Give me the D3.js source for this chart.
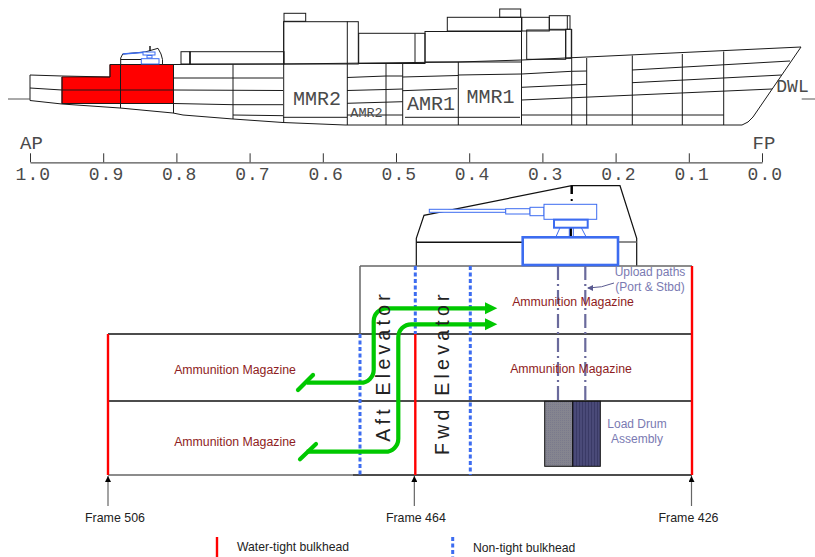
<!DOCTYPE html>
<html>
<head>
<meta charset="utf-8">
<script src="https://cdn.jsdelivr.net/npm/d3@7"></script>
<style>
  html, body { margin: 0; padding: 0; background: #fff; }
  svg { display: block; }
  .mono { font-family: "Liberation Mono", monospace; fill: #4a4a4a; }
  .sans { font-family: "Liberation Sans", sans-serif; }
</style>
</head>
<body>
<div id="chart"></div>
<script>
// ship profile: [distance from AP, height above keel]
var stationTicks = [1.0, 0.9, 0.8, 0.7, 0.6, 0.5, 0.4, 0.3, 0.2, 0.1, 0.0];
var hullOutline = [[0,50],[32,49],[80,48],[80,60.5],[144,60.5],[253,61],[428,63],[492,65],[542,67.3],[771,78],
  [723,8],[718,3],[712,0],[315,0],[253,2.5],[203,6],[153,10],[143,12],[90,17],[32,21],[0,24.5],[0,50]];
var redZone = [[32,48],[80,48],[80,60.5],[143.5,60.5],[143.5,21.5],[32,21.5],[32,48]];
var shipDecks = [
  [[143.5,47],[253,47]], [[317,47.5],[356,49],[372.7,49]], [[372.7,48],[428,49.5]], [[428,50],[491.5,51]],
  [[491.5,51],[541.7,53.7],[556.7,54]], [[602,55],[760,64]],
  [[0,37],[32,35],[143.5,35],[253,34.5]], [[317,34.5],[356,35.5],[372.7,36]], [[372.7,34.3],[427,36.3]],
  [[491.5,37.7],[556.7,40.7]], [[602,42.3],[751.7,50]],
  [[32,21.5],[143.5,21.5],[203,20.3],[253,20.3]], [[317,21.7],[372.7,23.3]], [[491.5,25],[742,36]],
  [[203,10],[253,9.3]], [[253,7.7],[317,7.7]], [[317,10],[372.7,10]], [[375,7.7],[490,7.7]], [[491.5,10],[693.7,10]]
];
var shipFrames = [[32,48,21],[90.5,60.5,17],[143.5,60.5,12],[203,60.7,6],[253.7,103.7,2.5],[317.3,103.7,0],[356,62,0],
  [372.7,62,0],[428.3,63,0],[491.5,108,0],[541.7,96,0],[556.7,67,0],[602.3,69.5,0],[652.3,71,0],[693.7,73.5,0],
  [160,61,73.3],[385,62,91.7],[537.3,95.7,109.3]];
var superstructure = [[151,160,61,73.3],[160,254,61,73.3],[254,275.7,103.7,111.7],[253.7,328.3,61,103.3],
  [328.7,395,61.5,91.7],[395,491.5,63,93.5],[417.3,491.7,94,107.7],[469.7,490.7,107.7,116],[491.7,519.3,94,107.7],
  [519.3,540,95.7,109.3],[496.7,535.7,65.7,95],[535.7,541.3,66.7,95.7]];
var smallTurret = [[90.7,61],[90.7,67],[92.7,71],[115,73],[128,76.7],[131,71],[132.5,65.5],[132.5,61]];
var smallTurretDeck = [[90.7,65.5],[112,65.5]];
var smallMast = [[120,74],[120,79]];
var smallBarrel = [[92.7,71],[115,72.7]];
var smallGun = [[113,125,70,73],[117,122,67,69.5],[111.3,129,61,66.3]];
var dwlStubs = [[[-22,26],[0,26]], [[771.7,26],[785,26]]];

// magazine section: [distance fwd of frame 506, depth below mast top]
var frames = [506, 464, 426];
var turretOutline = [[308.3,81],[308.3,53.3],[316,30.3],[463.7,0.7],[512,0.7],[528.7,53.3],[528.7,81]];
var gunRects = [[321.3,397.7,24.3,27.3],[397.7,422,23.7,29],[422,436,22.3,30.7],[436,488.7,19.3,34.3]];
var gunMount = [446,479.7,34.7,42.7];
var gunHouse = [414.7,510,52.3,80];
var gunLegs = [[[452,42.7],[448,51.7]],[[461.3,42.7],[461.3,51.7]],[[465.3,42.7],[465.3,51.7]],[[473.3,42.7],[478,51.7]]];
var blackDecks = [[[308.3,57.3],[414.7,57.3]],[[0,149],[584,149]],[[0,216],[584,216]],[[245,290],[584,290]]];
var greyDecks = [[[510,57],[528.7,57]],[[252,81],[584,81]],[[252,81],[252,149]],[[0,290],[245,290]]];
var tightBulkheads = [[0,149,290],[307.3,149,290],[584,81,290]];
var nonTightBulkheads = [[252,149,290],[307.3,81,149],[362.3,81,290]];
var uploadPaths = [450,477.3];
var elevatorRoutes = [
  [[198.7,197.7],[265.7,197.7],[265.7,123.3],[380,123.3]],
  [[198.7,266.7],[290.3,266.7],[290.3,139.3],[380,139.3]]
];
var routeBarbs = [[[205,190],[190,205]],[[208,259],[192,274.3]]];
var routeHeads = [123.3,139.3];
var magazineLabel = "Ammunition Magazine";

var W = 815, H = 557;
var svg = d3.select("#chart").append("svg").attr("width", W).attr("height", H);

var xStation = d3.scaleLinear().domain([1, 0]).range([30, 762]);
var xShip = d3.scaleLinear().domain([0, 732]).range([30, 762]);
var yShip = d3.scaleLinear().domain([0, 125]).range([125, 0]);
var xSec = d3.scaleLinear().domain([0, 584]).range([108, 692]);
var ySec = d3.scaleLinear().domain([0, 372]).range([185, 557]);
var xFrame = d3.scaleLinear().domain([506, 426]).range([108, 691.5]);

var shipLine = d3.line().x(function(d) { return xShip(d[0]); }).y(function(d) { return yShip(d[1]); });
var secLine = d3.line().x(function(d) { return xSec(d[0]); }).y(function(d) { return ySec(d[1]); });

var defs = svg.append("defs");
var p1 = defs.append("pattern").attr("id", "drumGrey").attr("width", 2).attr("height", 2).attr("patternUnits", "userSpaceOnUse");
p1.append("rect").attr("width", 2).attr("height", 2).attr("fill", "#85858f");
p1.append("rect").attr("width", 1).attr("height", 1).attr("fill", "#7a7a8c");
var p2 = defs.append("pattern").attr("id", "drumBlue").attr("width", 3).attr("height", 3).attr("patternUnits", "userSpaceOnUse");
p2.append("rect").attr("width", 3).attr("height", 3).attr("fill", "#4a4a78");
p2.append("rect").attr("width", 1).attr("height", 3).attr("fill", "#3a3a66");

var marker = defs.append("marker").attr("id", "blackTip").attr("viewBox", "0 0 8 8").attr("refX", 8).attr("refY", 4)
  .attr("markerWidth", 6).attr("markerHeight", 6).attr("markerUnits", "userSpaceOnUse").attr("orient", "auto");
marker.append("path").attr("d", "M0,0L8,4L0,8Z").attr("fill", "#000");

// ---- ship profile ----
var ship = svg.append("g").attr("fill", "none").attr("stroke", "#1a1a1a").attr("stroke-width", 1);

ship.append("path").attr("d", shipLine(redZone)).attr("fill", "#f00").attr("stroke", "#700");
ship.append("path").attr("d", shipLine(hullOutline));
ship.selectAll(".deck").data(shipDecks).enter().append("path").attr("class", "deck").attr("d", shipLine);
ship.selectAll(".dwl").data(dwlStubs).enter().append("path").attr("class", "dwl").attr("d", shipLine).attr("stroke", "#555");
ship.selectAll(".frm").data(shipFrames).enter().append("line").attr("class", "frm")
  .attr("x1", function(d) { return xShip(d[0]); }).attr("x2", function(d) { return xShip(d[0]); })
  .attr("y1", function(d) { return yShip(d[1]); }).attr("y2", function(d) { return yShip(d[2]); });
ship.selectAll(".sup").data(superstructure).enter().append("rect").attr("class", "sup")
  .attr("x", function(d) { return xShip(d[0]); }).attr("width", function(d) { return xShip(d[1]) - xShip(d[0]); })
  .attr("y", function(d) { return yShip(d[3]); }).attr("height", function(d) { return yShip(d[2]) - yShip(d[3]); });

ship.append("path").attr("d", shipLine(smallTurret));
ship.append("path").attr("d", shipLine(smallTurretDeck));
ship.append("path").attr("d", shipLine(smallMast)).attr("stroke-width", 1.5);
ship.append("path").attr("d", shipLine(smallBarrel)).attr("stroke", "#3c6cf0").attr("stroke-width", 1.5);
ship.selectAll(".sg").data(smallGun).enter().append("rect").attr("class", "sg")
  .attr("stroke", "#3c6cf0").attr("fill", "#fff")
  .attr("x", function(d) { return xShip(d[0]); }).attr("width", function(d) { return xShip(d[1]) - xShip(d[0]); })
  .attr("y", function(d) { return yShip(d[3]); }).attr("height", function(d) { return yShip(d[2]) - yShip(d[3]); });

function monoText(s, x, y, size, anchor) {
  svg.append("text").attr("class", "mono").attr("x", x).attr("y", y)
    .attr("font-size", size).attr("text-anchor", anchor || "middle").text(s);
}
monoText("MMR2", xShip(287), yShip(20), 20);
monoText("AMR2", xShip(336.5), yShip(8), 13.5);
monoText("AMR1", xShip(401), yShip(15), 20);
monoText("MMR1", xShip(460.5), yShip(22), 20);
monoText("DWL", xShip(762.5), yShip(33), 18);
monoText("AP", xStation(1) + 1.5, 149, 19);
monoText("FP", xStation(0) + 2, 149, 19);

// station axis
var axis = svg.append("g").attr("transform", "translate(0,162.3)")
  .call(d3.axisBottom(xStation).tickValues(stationTicks).tickFormat(d3.format(".1f")).tickSizeInner(-9).tickSizeOuter(0));
axis.select(".domain").attr("stroke", "#555").attr("stroke-width", 1.3);
axis.selectAll(".tick line").attr("stroke", "#333");
axis.selectAll(".tick text").attr("class", "mono").attr("font-size", 18).attr("letter-spacing", 1)
  .attr("x", 2.8).attr("y", 18).attr("dy", 0);

// ---- magazine section ----
var sec = svg.append("g").attr("fill", "none");

sec.append("path").attr("d", secLine(turretOutline)).attr("stroke", "#111").attr("stroke-width", 1.2);
sec.selectAll(".bd").data(blackDecks).enter().append("path").attr("class", "bd").attr("d", secLine)
  .attr("stroke", "#111").attr("stroke-width", 1.5);
sec.selectAll(".gd").data(greyDecks).enter().append("path").attr("class", "gd").attr("d", secLine)
  .attr("stroke", "#666").attr("stroke-width", 1.5);

// mast stubs
sec.append("path").attr("d", secLine([[463.7, 0.7], [463.7, 9]])).attr("stroke", "#000").attr("stroke-width", 2.5);
sec.append("path").attr("d", secLine([[463.7, 14], [463.7, 16]])).attr("stroke", "#000").attr("stroke-width", 2);
sec.append("path").attr("d", secLine([[462.7, 43], [462.7, 52]])).attr("stroke", "#000").attr("stroke-width", 2.5);

function rectAttrs(sel) {
  sel.attr("x", function(d) { return xSec(d[0]); }).attr("width", function(d) { return xSec(d[1]) - xSec(d[0]); })
    .attr("y", function(d) { return ySec(d[2]); }).attr("height", function(d) { return ySec(d[3]) - ySec(d[2]); });
}
var blue = "#3c6cf0";
sec.selectAll(".gun").data(gunRects).enter().append("rect").attr("class", "gun").attr("fill", "#fff")
  .attr("stroke", blue).attr("stroke-width", 1).call(rectAttrs);
sec.selectAll(".leg").data(gunLegs).enter().append("path").attr("class", "leg").attr("d", secLine)
  .attr("stroke", blue).attr("stroke-width", 1);
sec.append("rect").datum(gunMount).attr("fill", "#fff").attr("stroke", blue).attr("stroke-width", 2).call(rectAttrs);
sec.append("rect").datum(gunHouse).attr("fill", "#fff").attr("stroke", blue).attr("stroke-width", 2.6).call(rectAttrs);

// load drum
sec.append("rect").datum([436.7, 464.7, 216.3, 281.3]).attr("fill", "url(#drumGrey)").attr("stroke", "#111").call(rectAttrs);
sec.append("rect").datum([464.7, 492.3, 216.3, 281.3]).attr("fill", "url(#drumBlue)").attr("stroke", "#111").call(rectAttrs);

// upload paths
sec.selectAll(".up").data(uploadPaths).enter().append("line").attr("class", "up")
  .attr("x1", function(d) { return xSec(d); }).attr("x2", function(d) { return xSec(d); })
  .attr("y1", ySec(81)).attr("y2", ySec(216))
  .attr("stroke", "#6a6a9c").attr("stroke-width", 2.2).attr("stroke-dasharray", "14,4,2,4");

function bulkheads(data, cls) {
  return sec.selectAll("." + cls).data(data).enter().append("line").attr("class", cls)
    .attr("x1", function(d) { return xSec(d[0]); }).attr("x2", function(d) { return xSec(d[0]); })
    .attr("y1", function(d) { return ySec(d[1]); }).attr("y2", function(d) { return ySec(d[2]); });
}
bulkheads(tightBulkheads, "wt").attr("stroke", "#f00").attr("stroke-width", 2.4);
bulkheads(nonTightBulkheads, "nt").attr("stroke", blue).attr("stroke-width", 3).attr("stroke-dasharray", "4,2.5");

function sansText(s, x, y, size, fill, anchor) {
  return svg.append("text").attr("class", "sans").attr("x", x).attr("y", y).attr("font-size", size)
    .attr("fill", fill).attr("text-anchor", anchor || "middle").text(s);
}
var maroon = "#8e1c22", slate = "#7a7ab2";
sansText(magazineLabel, xSec(127), ySec(189), 12.3, maroon);
sansText(magazineLabel, xSec(127), ySec(261), 12.3, maroon);
sansText(magazineLabel, xSec(465), ySec(120.7), 12.3, maroon);
sansText(magazineLabel, xSec(463), ySec(187.7), 12.3, maroon);
sansText("Upload paths", xSec(542), ySec(90.7), 12, slate);
sansText("(Port & Stbd)", xSec(542), ySec(106), 12, slate);
sansText("Load Drum", xSec(529), ySec(242.7), 12, slate);
sansText("Assembly", xSec(529), ySec(257.7), 12, slate);

// elevators
[["Aft Elevator", 390, 441.7], ["Fwd Elevator", 449.3, 455]].forEach(function(e) {
  svg.append("text").attr("class", "sans").attr("transform", "translate(" + e[1] + "," + e[2] + ") rotate(-90)")
    .attr("font-size", 19.5).attr("letter-spacing", 4.25).attr("fill", "#222").text(e[0]);
});

// upload note arrow
sec.append("path").attr("d", "M" + xSec(506) + "," + ySec(98) + "Q" + xSec(494) + "," + ySec(103) + " " + xSec(480) + "," + ySec(103))
  .attr("stroke", "#5a5a90").attr("stroke-width", 1);
sec.append("path").attr("d", d3.line()([[xSec(479), ySec(103)], [xSec(485), ySec(100)], [xSec(485), ySec(106)]]) + "Z")
  .attr("fill", "#5a5a90");

// green routes
var green = "#00c800";
elevatorRoutes.forEach(function(r) {
  var p = d3.path();
  p.moveTo(xSec(r[0][0]), ySec(r[0][1]));
  p.arcTo(xSec(r[1][0]), ySec(r[1][1]), xSec(r[2][0]), ySec(r[2][1]), 13);
  p.arcTo(xSec(r[2][0]), ySec(r[2][1]), xSec(r[3][0]), ySec(r[3][1]), 13);
  p.lineTo(xSec(r[3][0]), ySec(r[3][1]));
  sec.append("path").attr("d", p.toString()).attr("stroke", green).attr("stroke-width", 4.2);
});
sec.selectAll(".barb").data(routeBarbs).enter().append("path").attr("class", "barb").attr("d", secLine)
  .attr("stroke", green).attr("stroke-width", 4.2).attr("stroke-linecap", "round");
sec.selectAll(".head").data(routeHeads).enter().append("path").attr("class", "head")
  .attr("d", function(d) {
    return d3.line()([[xSec(377), ySec(d - 6)], [xSec(389.3), ySec(d)], [xSec(377), ySec(d + 6)]]) + "Z";
  }).attr("fill", green);

// frame pointers
frames.forEach(function(f) {
  var x = xFrame(f);
  svg.append("line").attr("x1", x).attr("x2", x).attr("y1", 506).attr("y2", 476)
    .attr("stroke", "#666").attr("stroke-width", 1.2).attr("marker-end", "url(#blackTip)");
  sansText("Frame " + f, x + (f === 426 ? -3 : f === 464 ? 1.5 : 7), 521.7, 12.4, "#222");
});

// legend
svg.append("line").attr("x1", 217).attr("x2", 217).attr("y1", 537).attr("y2", 557).attr("stroke", "#f00").attr("stroke-width", 2.4);
svg.append("line").attr("x1", 452.7).attr("x2", 452.7).attr("y1", 537).attr("y2", 557).attr("stroke", blue).attr("stroke-width", 3).attr("stroke-dasharray", "4,2.5");
sansText("Water-tight bulkhead", 237, 551, 12.2, "#222", "start");
sansText("Non-tight bulkhead", 473, 552, 12.2, "#222", "start");
</script>
</body>
</html>
